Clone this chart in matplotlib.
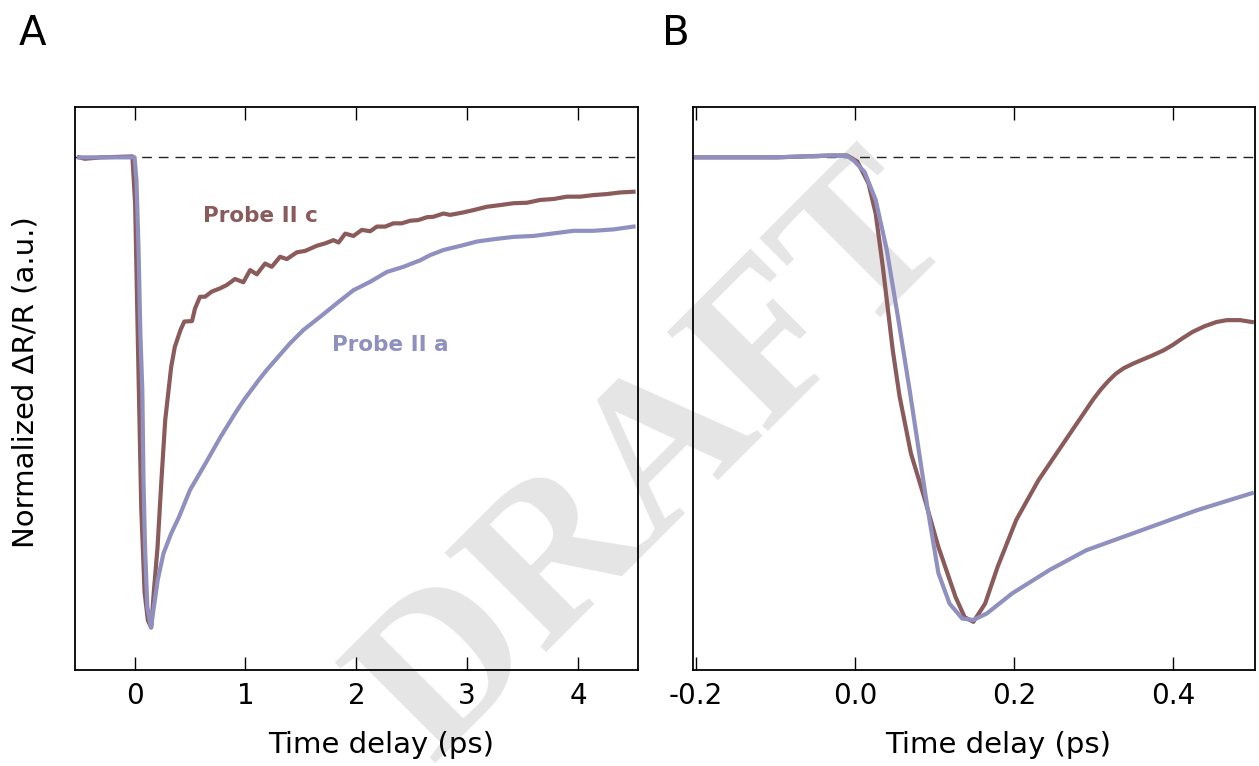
import numpy as np
import matplotlib.pyplot as plt

# panel A, long time window (ps, normalized dR/R)
t_a_c = [-0.50, -0.45, -0.30, -0.02, 0.005, 0.03, 0.06, 0.09, 0.12, 0.15, 0.173, 0.207,
         0.242, 0.276, 0.31, 0.33, 0.363, 0.414, 0.448, 0.518, 0.545, 0.59, 0.635, 0.696,
         0.771, 0.831, 0.906, 0.981, 1.042, 1.102, 1.177, 1.237, 1.312, 1.373, 1.463,
         1.538, 1.643, 1.718, 1.794, 1.84, 1.90, 1.974, 2.05, 2.125, 2.185, 2.26, 2.335,
         2.41, 2.485, 2.56, 2.636, 2.696, 2.786, 2.846, 2.967, 3.057, 3.178, 3.298, 3.418,
         3.539, 3.659, 3.779, 3.9, 4.02, 4.14, 4.26, 4.38, 4.5]
r_a_c = [0.0, -0.003, 0.0, 0.002, -0.1, -0.4, -0.75, -0.93, -0.99, -1.005, -0.93, -0.833,
         -0.69, -0.562, -0.49, -0.448, -0.405, -0.369, -0.351, -0.35, -0.323, -0.298, -0.298,
         -0.287, -0.28, -0.273, -0.26, -0.267, -0.241, -0.25, -0.227, -0.234, -0.2125,
         -0.2175, -0.203, -0.2, -0.189, -0.184, -0.177, -0.182, -0.163, -0.168, -0.155,
         -0.158, -0.148, -0.148, -0.141, -0.141, -0.1355, -0.134, -0.128, -0.127, -0.12,
         -0.123, -0.1176, -0.1127, -0.1056, -0.102, -0.098, -0.097, -0.091, -0.089, -0.084,
         -0.084, -0.0806, -0.0785, -0.075, -0.0735]

t_a_a = [-0.50, -0.30, 0.0, 0.017, 0.036, 0.052, 0.07, 0.08, 0.094, 0.115, 0.139, 0.148,
         0.208, 0.26, 0.33, 0.40, 0.50, 0.64, 0.777, 0.915, 0.985, 1.12, 1.19, 1.40, 1.523,
         1.673, 1.824, 1.974, 2.125, 2.275, 2.425, 2.576, 2.666, 2.786, 2.967, 3.087, 3.237,
         3.418, 3.598, 3.779, 3.96, 4.14, 4.32, 4.5]
r_a_a = [0.0, 0.0, 0.0, -0.05, -0.2, -0.377, -0.5, -0.69, -0.833, -0.961, -0.993, -1.005,
         -0.904, -0.847, -0.804, -0.769, -0.711, -0.654, -0.597, -0.544, -0.519, -0.476,
         -0.455, -0.398, -0.369, -0.341, -0.312, -0.284, -0.266, -0.245, -0.234, -0.22,
         -0.209, -0.198, -0.1875, -0.18, -0.175, -0.17, -0.168, -0.1625, -0.157, -0.157,
         -0.154, -0.148]

# panel B, zoom on the first 0.5 ps
t_b_c = [-0.2, -0.1, -0.03, -0.01, 0.003, 0.017, 0.026, 0.035, 0.0475, 0.056, 0.0704, 0.087,
         0.105, 0.1266, 0.138, 0.149, 0.1638, 0.1796, 0.203, 0.231, 0.268, 0.30, 0.31, 0.319,
         0.328, 0.338, 0.35, 0.361, 0.375, 0.389, 0.40, 0.412, 0.425, 0.44, 0.455, 0.468,
         0.485, 0.4995]
r_b_c = [0.0, 0.0, 0.004, 0.004, -0.009, -0.056, -0.12, -0.234, -0.412, -0.51, -0.633, -0.726,
         -0.833, -0.94, -0.983, -0.993, -0.954, -0.875, -0.775, -0.69, -0.597, -0.517, -0.495,
         -0.478, -0.463, -0.451, -0.441, -0.433, -0.423, -0.412, -0.401, -0.387, -0.373,
         -0.361, -0.352, -0.348, -0.348, -0.352]

t_b_a = [-0.2, -0.1, -0.03, -0.01, -0.002, 0.012, 0.026, 0.040, 0.054, 0.069, 0.0796, 0.091,
         0.105, 0.119, 0.135, 0.149, 0.166, 0.198, 0.245, 0.291, 0.361, 0.431, 0.4995]
r_b_a = [0.0, 0.0, 0.004, 0.003, -0.006, -0.031, -0.091, -0.198, -0.341, -0.50, -0.619, -0.747,
         -0.889, -0.954, -0.986, -0.989, -0.975, -0.932, -0.882, -0.84, -0.797, -0.754, -0.718]

col_c = '#8b5b5b'
col_a = '#9090c0'

fig = plt.figure(figsize=(12.59, 7.66), dpi=100)
axA = fig.add_axes([0.0598, 0.1253, 0.4469, 0.7346])
axB = fig.add_axes([0.5504, 0.1253, 0.4461, 0.7346])

for ax in (axA, axB):
    ax.set_facecolor('none')
    ax.axhline(0, color='#222222', lw=1.0, dashes=(7, 5), zorder=1)
    ax.set_ylim(-1.096, 0.107)
    ax.set_yticks([])
    ax.tick_params(axis='x', direction='in', top=True, length=9.5, width=1.0,
                   labelsize=20, pad=8.5)
    for sp in ax.spines.values():
        sp.set_linewidth(1.3)
    ax.set_xlabel('Time delay (ps)', fontsize=21, labelpad=15, x=0.543)

axA.plot(t_a_c, r_a_c, color=col_c, lw=3, solid_joinstyle='round', zorder=2)
axA.plot(t_a_a, r_a_a, color=col_a, lw=3, solid_joinstyle='round', zorder=3)
axA.set_xlim(-0.535, 4.54)
axA.set_xticks([0, 1, 2, 3, 4])
axA.set_ylabel('Normalized \u0394R/R (a.u.)', fontsize=21, labelpad=26, y=0.512)
axA.text(0.617, -0.138, 'Probe II c', color=col_c, fontsize=15.5, fontweight='bold')
axA.text(1.78, -0.414, 'Probe II a', color=col_a, fontsize=15.5, fontweight='bold')

axB.plot(t_b_c, r_b_c, color=col_c, lw=3, solid_joinstyle='round', zorder=2)
axB.plot(t_b_a, r_b_a, color=col_a, lw=3, solid_joinstyle='round', zorder=3)
axB.set_xlim(-0.204, 0.503)
axB.set_xticks([-0.2, 0.0, 0.2, 0.4])
axB.set_xticklabels(['-0.2', '0.0', '0.2', '0.4'])

fig.text(19 / 1259, 1 - 45 / 766, 'A', fontsize=29, ha='left', va='baseline')
fig.text(662 / 1259, 1 - 45 / 766, 'B', fontsize=29, ha='left', va='baseline')

# watermark behind the axes
fig.text(432 / 1259, 1 - 764 / 766, 'DRAFT', fontsize=156, color='#e5e5e5',
         family='Liberation Serif', fontweight='bold', rotation=45,
         rotation_mode='anchor', ha='left', va='baseline', zorder=-1)

fig.savefig('out.png', dpi=100)
